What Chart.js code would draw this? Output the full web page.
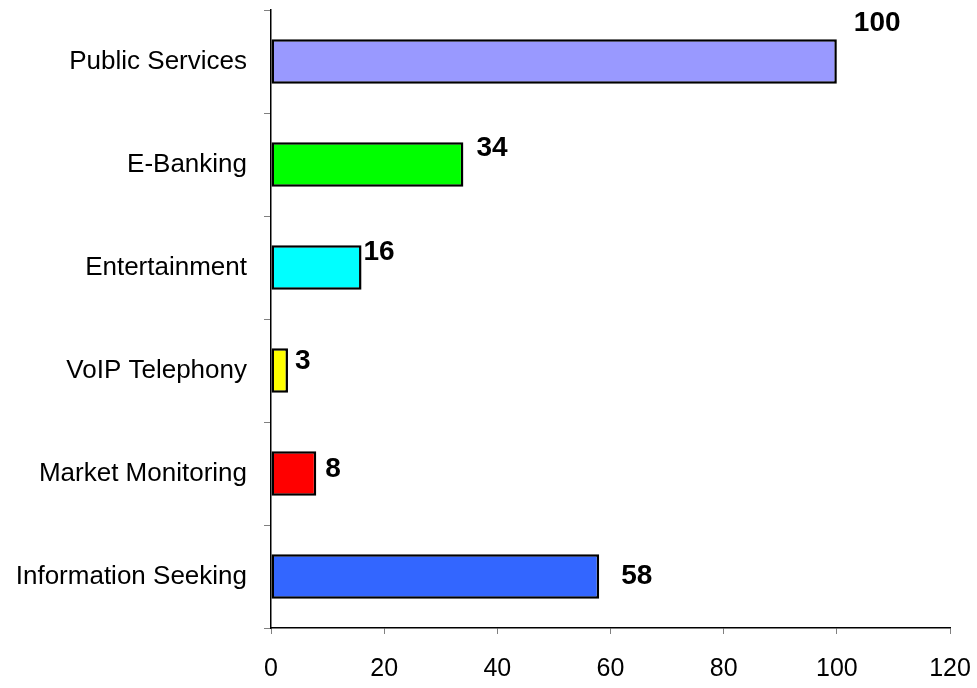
<!DOCTYPE html>
<html>
<head>
<meta charset="utf-8">
<script src="https://cdn.jsdelivr.net/npm/chart.js@4.4.1/dist/chart.umd.min.js"></script>
<style>
  html, body { margin: 0; padding: 0; background: #fff; }
  #wrap { width: 977px; height: 688px; }
</style>
</head>
<body>
<div id="wrap"><canvas id="usageChart"></canvas></div>
<script>
const categories = ["Public Services", "E-Banking", "Entertainment", "VoIP Telephony", "Market Monitoring", "Information Seeking"];
const values = [100, 34, 16, 3, 8, 58];
const barColors = ["#9999FF", "#00FF00", "#00FFFF", "#FFFF00", "#FF0000", "#3366FF"];
const xTicks = [0, 20, 40, 60, 80, 100, 120];

// where each value label sits relative to the end of its bar (dx, dy)
const labelNudge = [[17, -38], [13, -16], [2, -15], [7, -9], [9, -4], [22, 0]];

const valueLabels = {
  id: "valueLabels",
  afterDatasetsDraw(chart) {
    const ctx = chart.ctx;
    const meta = chart.getDatasetMeta(0);
    ctx.save();
    ctx.font = "bold 28px Arial, 'Liberation Sans', sans-serif";
    ctx.fillStyle = "#000";
    ctx.textAlign = "left";
    ctx.textBaseline = "middle";
    meta.data.forEach((bar, i) => {
      const [dx, dy] = labelNudge[i];
      ctx.fillText(String(values[i]), bar.x + dx, bar.y + dy);
    });
    ctx.restore();
  }
};

new Chart(document.getElementById("usageChart"), {
  type: "bar",
  data: {
    labels: categories,
    datasets: [{
      data: values,
      backgroundColor: barColors,
      borderColor: "#000",
      borderWidth: 2.5,
      borderSkipped: false,
      barPercentage: 0.43,
      categoryPercentage: 1
    }]
  },
  options: {
    indexAxis: "y",
    responsive: true,
    maintainAspectRatio: false,
    animation: false,
    layout: { padding: { top: 10, right: 27, left: 0, bottom: 0 } },
    plugins: {
      legend: { display: false },
      tooltip: { enabled: false }
    },
    scales: {
      x: {
        min: 0,
        max: 120,
        afterBuildTicks(scale) {
          scale.ticks = xTicks.map(v => ({ value: v }));
        },
        afterFit(scale) {
          scale.height = 60;
          scale.paddingLeft = 0;
          scale.paddingRight = 0;
        },
        border: { color: "#000", width: 1.5 },
        grid: {
          drawOnChartArea: false,
          drawTicks: true,
          tickLength: 6,
          color: "#808080"
        },
        ticks: {
          color: "#000",
          padding: 20,
          font: { family: "Arial, 'Liberation Sans', sans-serif", size: 25 }
        }
      },
      y: {
        afterFit(scale) {
          scale.width = 271;
          scale.paddingTop = 0;
          scale.paddingBottom = 0;
        },
        border: { color: "#000", width: 1.5 },
        grid: {
          offset: true,
          drawOnChartArea: false,
          drawTicks: true,
          tickLength: 7,
          color: "#808080"
        },
        ticks: {
          color: "#000",
          padding: 17,
          font: { family: "Arial, 'Liberation Sans', sans-serif", size: 26 }
        }
      }
    }
  },
  plugins: [valueLabels]
});
</script>
</body>
</html>
